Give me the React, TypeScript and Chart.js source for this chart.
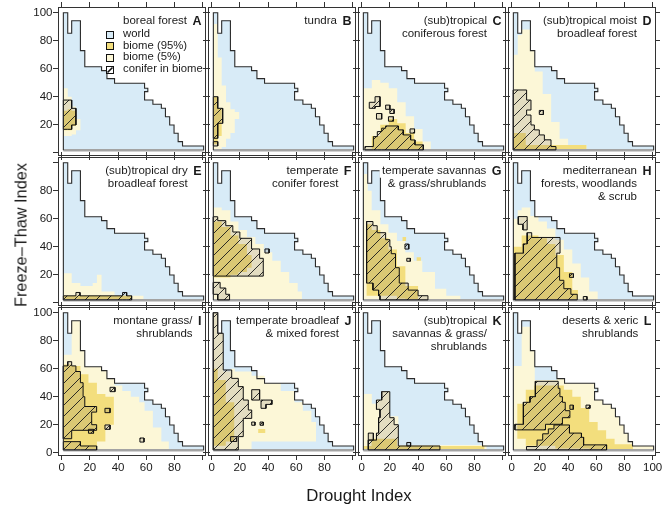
import React, { useEffect, useRef } from "react";
import { Chart, registerables } from "chart.js";

Chart.register(...registerables);

type Step = [number, number, number, number];
type Region = { d: "x" | "y"; s: Step[] };
// "x": columns [x0, x1, yLow, yHigh];  "y": rows [y0, y1, xLow, xHigh]
const X = (...s: Step[]): Region => ({ d: "x", s });
const Y = (...s: Step[]): Region => ({ d: "y", s });

// ---------- axes ----------
const TICK_VALUES = [0, 20, 40, 60, 80, 100];
const X_LABELS_BOTTOM = [
  [0, 20, 40, 60, 80],
  [0, 20, 40, 60, 80],
  [0, 20, 40, 60, 80],
  [0, 20, 40, 60, 80, 100],
];
const Y_LABELS_LEFT = [
  [20, 40, 60, 80, 100],
  [20, 40, 60, 80],
  [0, 20, 40, 60, 80, 100],
];

// ---------- world climate envelope (outline, drought x / freeze-thaw y) ----------
const WORLD: [number, number][] = [
  [1.2, 1.7], [1.2, 100], [4.3, 100], [4.3, 85.3], [7.1, 85.3], [7.1, 94.3], [13.3, 94.3],
  [13.3, 72.9], [16.4, 72.9], [16.4, 61.4], [28.3, 61.4], [28.3, 58.6], [32.1, 58.6],
  [32.1, 52.9], [37.5, 52.9], [37.5, 49.6], [58.8, 49.6], [58.8, 46], [61.1, 46],
  [61.1, 43.6], [58.8, 43.6], [58.8, 37.6], [64.7, 37.6], [64.7, 34.6], [70.7, 34.6],
  [70.7, 31.7], [73.6, 31.7], [73.6, 25.7], [76.6, 25.7], [76.6, 19.8], [79.7, 19.8],
  [79.7, 13.9], [82.6, 13.9], [82.6, 7.9], [85.7, 7.9], [85.7, 4.8], [100.7, 4.8], [100.7, 1.7],
];
const BAND: [number, number][] = [[1.2, 1.7], [100.7, 1.7]];

// ---------- panel labels ----------
const LETTERS = ["A", "B", "C", "D", "E", "F", "G", "H", "I", "J", "K", "L"];
const TITLES = [
  ["boreal forest"],
  ["tundra"],
  ["(sub)tropical", "coniferous forest"],
  ["(sub)tropical moist", "broadleaf forest"],
  ["(sub)tropical dry", "broadleaf forest"],
  ["temperate", "conifer forest"],
  ["temperate savannas", "& grass/shrublands"],
  ["mediterranean", "forests, woodlands", "& scrub"],
  ["montane grass/", "shrublands"],
  ["temperate broadleaf", "& mixed forest"],
  ["(sub)tropical", "savannas & grass/", "shrublands"],
  ["deserts & xeric", "shrublands"],
];
const LEGEND_LABELS = ["world", "biome (95%)", "biome (5%)", "conifer in biome"];
const LEGEND_Y = [84.6, 76.4, 68.1, 59.6];
const TITLE_Y = 93.9;

// ---------- biome regions ----------
const A_B5 = [X([1.2, 4.3, 12, 46], [4.3, 7.1, 12, 40], [7.1, 10.2, 13, 33], [10.2, 13.3, 16, 24])];
const A_B95 = [X([1.2, 4.3, 16, 30], [4.3, 7.1, 16, 31], [7.1, 10.2, 19, 30])];
const A_CON = [X([1.2, 4.3, 16.7, 37.6], [4.3, 7.1, 16.7, 37.6], [7.1, 10.1, 19.8, 31.7])];

const B_B5 = [X([1.2, 4.3, 2, 92], [4.3, 7.1, 2, 68], [7.1, 10.2, 4, 48], [10.2, 13.3, 10, 36], [13.3, 16.4, 14, 31], [16.4, 19.5, 24, 29])];
const B_B95 = [X([1.2, 4.3, 6, 40], [4.3, 7.1, 12, 32])];
const B_CON = [X([1.2, 4.3, 10.3, 40], [4.3, 7.8, 21, 31.7]), X([1.2, 4.3, 4.8, 7.9])];

const C_B5 = [X([1.2, 7.2, 2, 46], [7.2, 13.2, 2, 52], [13.2, 19.2, 2, 50], [19.2, 25.2, 2, 46], [25.2, 31.2, 2, 36], [31.2, 37.2, 2, 26], [37.2, 43.2, 2, 17], [43.2, 49, 2, 8])];
const C_B95 = [X([7.2, 13.2, 2, 12], [13.2, 19.2, 2, 20], [19.2, 25.2, 2, 24], [25.2, 31.2, 2, 21], [31.2, 37.2, 2, 14], [37.2, 43.2, 2, 8])];
const C_CON = [
  X([2.3, 8.3, 2, 4.4], [8.3, 11.1, 2, 11.5], [11.1, 14.2, 2, 15.1], [14.2, 17, 2, 17.5], [17, 26, 2, 19.1], [26, 29.5, 2, 16.3], [29.5, 34.7, 2, 12.7], [34.7, 37.8, 2, 9.1], [37.8, 43.7, 2, 5.6]),
  X([5.4, 9.5, 31.7, 36], [9.5, 13, 33, 40]),
  X([17, 20, 31, 34]), X([20, 23, 28, 31]), X([10.5, 14.2, 24, 28]), X([19, 22.5, 22.5, 25.7]), X([34.3, 37.5, 14, 17]),
];

const D_B5 = [X([1.2, 4.3, 2, 70], [4.3, 7.1, 2, 84], [7.1, 13.3, 2, 88], [13.3, 16.4, 2, 72.9], [16.4, 22, 2, 58], [22, 28, 2, 42], [28, 34, 2, 22], [34, 40, 2, 10], [40, 53, 2, 5.5])];
const D_B95 = [X([1.2, 53, 2, 5.5]), X([1.2, 10, 5, 14])];
const D_CON = [
  Y([2, 4.4, 1.2, 31.4], [4.4, 9.2, 1.2, 27.9], [9.2, 12.7, 1.2, 23.2], [12.7, 16.3, 1.2, 19.6], [16.3, 19.8, 1.2, 16.1], [19.8, 26.9, 1.2, 13.7], [26.9, 30.5, 1.2, 10.6], [30.5, 37.6, 1.2, 13.7], [37.6, 44.8, 1.2, 10.6]),
  X([19.6, 22.5, 27.3, 30.2]),
];

const E_B5 = [X([1.2, 7.1, 2, 21], [7.1, 13.3, 2, 14], [13.3, 22, 2, 12], [22, 25, 2, 14], [25, 28.3, 2, 20], [28.3, 37.5, 2, 8], [37.5, 58, 2, 5])];
const E_B95 = [X([1.2, 49.6, 2, 4.9])];
const E_CON = [X([1.2, 10.1, 2, 4.9], [10.1, 13, 2, 7.3], [13, 43.2, 2, 4.9], [43.2, 46.1, 2, 7.3], [46.1, 49.6, 2, 4.9])];

const F_B5 = [X([1.2, 7.1, 2, 68], [7.1, 13.3, 2, 66], [13.3, 19, 2, 58], [19, 25, 2, 52], [25, 31, 2, 47], [31, 37, 2, 42], [37, 43, 2, 36], [43, 49, 2, 30], [49, 55, 2, 22], [55, 61, 2, 14], [61, 64, 2, 8])];
const F_B95 = [X([1.2, 7.1, 18, 58], [7.1, 13.3, 18, 54], [13.3, 19, 20, 48], [19, 25, 22, 42], [25, 28.3, 25, 34])];
const F_CON = [
  Y([19, 31.7, 1.2, 36.6], [31.7, 38.4, 1.2, 34], [38.4, 46, 1.2, 28.3], [46, 50.5, 1.2, 20], [50.5, 55, 1.2, 15], [55, 58.6, 1.2, 10], [58.6, 61.4, 1.2, 4.3]),
  Y([2, 6, 4.3, 12.7], [6, 10.5, 1.2, 10], [10.5, 14.5, 1.2, 6]),
  X([37.8, 40.7, 35.5, 38.4]),
];

const G_B5 = [X([1.2, 4.3, 2, 92], [4.3, 7.1, 2, 80], [7.1, 13.3, 2, 66], [13.3, 19, 2, 56], [19, 25, 2, 50], [25, 31, 2, 44], [31, 37, 2, 36], [37, 43, 2, 30], [43, 52, 2, 22], [52, 60, 2, 10], [60, 70, 2, 5])];
const G_B95 = [X([3.5, 7.1, 5, 56], [7.1, 13.3, 5, 52], [13.3, 19, 5, 46], [19, 25, 5, 38], [25, 31, 3, 26], [31, 40, 2, 12]), X([29, 31.5, 44, 47]), X([39, 42, 30, 32.5])];
const G_CON = [
  Y([2, 5, 13, 47], [5, 9, 12, 40], [9, 14, 8, 33], [14, 20, 3.5, 27], [20, 25, 3.5, 26.5], [25, 35, 3.5, 24], [35, 40, 3.5, 21], [40, 45, 3.5, 20], [45, 50, 3.5, 17], [50, 55, 3.5, 11], [55, 58, 3.5, 8]),
  X([30.7, 33.4, 38.3, 41.9]), X([32, 34.5, 29.6, 31.7]),
];

const H_B5 = [X([1.2, 4.3, 2, 60], [4.3, 7.1, 2, 66], [7.1, 13.3, 2, 68], [13.3, 19, 2, 62], [19, 25, 2, 58], [25, 31, 2, 53], [31, 37, 2, 45], [37, 43, 2, 38], [43, 49, 2, 28], [49, 55, 2, 18], [55, 61, 2, 8])];
const H_B95 = [X([1.2, 7.1, 2, 40], [7.1, 13.3, 2, 48], [13.3, 19, 2, 48], [19, 25, 2, 46], [25, 31, 2, 42], [31, 37, 2, 34], [37, 43, 2, 22], [43, 47, 2, 9])];
const H_CON = [
  Y([2, 6, 2.3, 46.5], [6, 10, 2.3, 42], [10, 16, 2.3, 37], [16, 25, 2.3, 34], [25, 35.4, 2.3, 32], [35.4, 42, 8.3, 34.3], [42, 46.6, 11, 34.3], [46.6, 50, 11, 14.2]),
  Y([52, 56, 8, 11], [56, 61.5, 4.7, 11]),
  X([41, 43.8, 18.1, 20.7]), X([50.8, 53.4, 2, 4.4]),
];

const I_B5 = [X([1.2, 4.3, 2, 70], [4.3, 7.1, 2, 70], [7.1, 13.3, 2, 94.3], [13.3, 16.4, 2, 72.9], [16.4, 28.3, 2, 61.4], [28.3, 32.1, 2, 58.6], [32.1, 37.5, 2, 52.9], [37.5, 43, 2, 48], [43, 49, 2, 44], [49, 55, 2, 40], [55, 58.8, 2, 36], [58.8, 64.7, 2, 30], [64.7, 70.7, 2, 18], [70.7, 76, 2, 8])];
const I_B95 = [X([1.2, 7.1, 2, 63], [7.1, 13.3, 2, 62], [13.3, 19, 2, 56], [19, 25, 2, 50], [25, 31, 8, 42], [31, 37, 20, 40])];
const I_CON = [
  Y([10, 16, 1.2, 7.1], [16, 20, 1.2, 24.8], [20, 29, 1.2, 21.3], [29, 33, 1.2, 24.8], [33, 40, 1.2, 16.4], [40, 50, 1.2, 15.2], [50, 58, 1.2, 13.3], [58, 62, 1.2, 10.1], [62, 65, 4.3, 7.1]),
  X([1.2, 13.3, 2, 7.9], [13.3, 24.8, 2, 4.8]),
  X([34.3, 37.8, 43.6, 46.7]), X([30.7, 34.3, 28.6, 31.7]), X([30.7, 34.3, 16.7, 19.8]), X([19, 22.6, 13.9, 16.7]), X([55.5, 58.4, 7.6, 10.5]),
];

const J_B5 = [X([1.2, 4.3, 2, 100], [4.3, 8.2, 2, 85.3], [8.2, 13.3, 2, 58], [13.3, 16.4, 2, 60], [16.4, 28.3, 2, 58], [28.3, 37.5, 8, 55], [37.5, 49, 8, 49.6], [49, 58.8, 8, 44], [58.8, 64.7, 8, 36], [64.7, 70.7, 8, 30], [70.7, 74, 8, 22])];
const J_B95 = [X([1.2, 4.3, 5, 60], [4.3, 10, 5, 52], [10, 16, 8, 36]), X([33, 38, 14, 17])];
const J_CON = [
  Y([2, 11.5, 1.2, 18.9], [11.5, 24.5, 1.2, 22.4], [24.5, 30.5, 1.2, 28.4], [30.5, 37.6, 1.2, 26], [37.6, 47.2, 1.2, 22.4], [47.2, 53.1, 1.2, 18.9], [53.1, 59.1, 1.2, 14.2], [59.1, 85.3, 1.2, 8.2], [85.3, 100, 1.2, 4.3]),
  X([13.4, 17.7, 8, 11.5]), X([28.4, 34, 37.6, 45]), X([35, 38.5, 31.7, 37.6], [38.5, 42.7, 34.5, 37.6]),
  X([28.4, 30.7, 19.6, 21.9]), X([34.3, 36.6, 19.6, 21.9]),
];

const K_B5 = [X([1.2, 7.2, 2, 42], [7.2, 10.5, 2, 35], [10.5, 14.2, 2, 38], [14.2, 20, 2, 44], [20, 26, 2, 26], [26, 88.6, 2, 5.5])];
const K_B95 = [X([1.2, 87, 2, 4.8]), X([7, 25, 4.8, 10])];
const K_CON = [
  Y([2, 4.8, 4.7, 55.5], [4.8, 9, 4.7, 26], [9, 14, 10.5, 26], [14, 20, 12, 26], [20, 25, 12, 23], [25, 31, 13, 20], [31, 37.6, 10.5, 20], [37.6, 43.6, 14.2, 19.9]),
  X([4.7, 8.3, 9, 14]), X([32, 34.7, 4.8, 7.3]),
];

const L_B5 = [X([1.2, 4.3, 2, 62], [4.3, 7.1, 2, 62], [7.1, 13.3, 2, 90], [13.3, 16.4, 2, 72.9], [16.4, 32.1, 2, 52], [32.1, 37.5, 2, 52.9], [37.5, 58.8, 2, 49.6], [58.8, 64.7, 2, 37.6], [64.7, 70.7, 2, 34.6], [70.7, 73.6, 2, 31.7], [73.6, 76.6, 2, 25.7], [76.6, 79.7, 2, 19.8], [79.7, 82.6, 2, 13.9], [82.6, 85.7, 2, 7.9], [85.7, 100.7, 2, 4.8])];
const L_B95 = [X([4, 10, 10, 35], [10, 16, 5, 45], [16, 25, 5, 48], [25, 31, 5, 48], [31, 37, 3, 48], [37, 43, 3, 45], [43, 49, 3, 40], [49, 55, 3, 32], [55, 61, 2, 22], [61, 67, 2, 16], [67, 73, 2, 10], [73, 86, 2, 6])];
const L_CON = [
  Y([16.3, 20.3, 2.3, 24], [20.3, 25, 8.3, 36], [25, 30, 8.3, 41.3], [30, 36, 8.3, 38], [36, 40, 13, 36], [40, 46, 16.8, 34.2], [46, 51, 16.8, 33]),
  X([10.5, 18, 2, 4.4], [18, 22, 2, 9], [22, 26, 2, 13.5], [26, 30, 2, 17], [30, 41, 2, 19.8], [41, 49.5, 2, 14], [49.5, 51, 2, 11], [51, 67.3, 2, 5.6]),
  X([41.3, 43.7, 31, 34]), X([52.7, 55.5, 31.7, 34]),
];

const B5_LIST = [A_B5, B_B5, C_B5, D_B5, E_B5, F_B5, G_B5, H_B5, I_B5, J_B5, K_B5, L_B5];
const B95_LIST = [A_B95, B_B95, C_B95, D_B95, E_B95, F_B95, G_B95, H_B95, I_B95, J_B95, K_B95, L_B95];
const CON_LIST = [A_CON, B_CON, C_CON, D_CON, E_CON, F_CON, G_CON, H_CON, I_CON, J_CON, K_CON, L_CON];

// ---------- styling / layout ----------
const FONT = '"Liberation Sans", Arial, Helvetica, sans-serif';
const COL_WORLD = "#d8ebf7";
const COL_B95 = "#f3de7d";
const COL_B5 = "#fcf7d7";
const COL_LINE = "#2b2b2b";
const COL_BAND = "#a3a3a3";
const COL_FRAME = "#333333";
const COL_TEXT = "#1a1a1a";

const XMIN = -2.6, XMAX = 101.65, YMIN = -1.64, YMAX = 104.07;
const ML = 40, MR = 12, MT = 10, MB = 24, PW = 147, PH = 148;
const CW = ML + PW + MR, CH = MT + PH + MB;
const LEFT0 = 18, TOP0 = -3, STEP = 150;

const toPts = (a: [number, number][]) => a.map(([x, y]) => ({ x, y }));

function regionPoints(r: Region) {
  const top: { x: number; y: number }[] = [];
  const bot: { x: number; y: number }[] = [];
  for (const [a, b, lo, hi] of r.s) {
    if (r.d === "x") {
      top.push({ x: a, y: hi }, { x: b, y: hi });
      bot.push({ x: a, y: lo }, { x: b, y: lo });
    } else {
      top.push({ x: hi, y: a }, { x: hi, y: b });
      bot.push({ x: lo, y: a }, { x: lo, y: b });
    }
  }
  return [...top, ...bot.reverse(), top[0]];
}

function makeHatch(): CanvasPattern {
  const t = document.createElement("canvas");
  const n = 11;
  t.width = n;
  t.height = n;
  const g = t.getContext("2d")!;
  g.fillStyle = "rgba(85,75,65,0.15)";
  g.fillRect(0, 0, n, n);
  g.strokeStyle = "#1a1a1a";
  g.lineWidth = 0.9;
  g.beginPath();
  g.moveTo(-1, n + 1);
  g.lineTo(n + 1, -1);
  g.moveTo(-2, 2);
  g.lineTo(2, -2);
  g.moveTo(n - 2, n + 2);
  g.lineTo(n + 2, n - 2);
  g.stroke();
  return g.createPattern(t, "repeat")!;
}

function axis(pos: string, labels: number[] | null, size: number, isX: boolean) {
  return {
    type: "linear",
    position: pos,
    axis: isX ? "x" : "y",
    min: isX ? XMIN : YMIN,
    max: isX ? XMAX : YMAX,
    afterBuildTicks: (s: any) => {
      s.ticks = TICK_VALUES.map((v) => ({ value: v }));
    },
    afterFit: (s: any) => {
      if (isX) s.height = size;
      else s.width = size;
    },
    ticks: {
      autoSkip: false,
      maxRotation: 0,
      padding: isX ? 1 : 0.5,
      color: COL_TEXT,
      font: { family: FONT, size: 11.5 },
      callback: (v: any) => (labels && labels.includes(Number(v)) ? String(v) : ""),
    },
    grid: { display: true, drawOnChartArea: false, drawTicks: true, tickLength: 5, color: COL_FRAME, lineWidth: 1 },
    border: { display: true, color: COL_FRAME, width: 1 },
  };
}

function textPlugin(idx: number) {
  return {
    id: "panelText" + idx,
    afterDatasetsDraw(chart: any) {
      const { ctx, chartArea, scales } = chart;
      const lines = TITLES[idx];
      ctx.save();
      ctx.textBaseline = "middle";
      ctx.font = `bold 12.5px ${FONT}`;
      const lw = ctx.measureText(LETTERS[idx]).width;
      const lx = chartArea.right - 3.5 - lw;
      const y0 = scales.y.getPixelForValue(TITLE_Y);
      const rx = lx - 5.5;
      ctx.font = `11.5px ${FONT}`;
      ctx.fillStyle = "#ffffff";
      lines.forEach((t, i) => {
        const w = ctx.measureText(t).width;
        ctx.fillRect(rx - w - 2.5, y0 + i * 13 - 6.5, w + 5, 13);
      });
      ctx.fillStyle = COL_TEXT;
      ctx.textAlign = "right";
      lines.forEach((t, i) => ctx.fillText(t, rx, y0 + i * 13));
      ctx.font = `bold 12.5px ${FONT}`;
      ctx.textAlign = "left";
      ctx.fillText(LETTERS[idx], lx, y0);

      if (idx === 0) {
        const fills = [COL_WORLD, COL_B95, COL_B5, "#ffffff"];
        const s = 7;
        const bx = Math.round(chartArea.left + 47.5) + 0.5;
        const tx = chartArea.left + 65;
        ctx.font = `11.3px ${FONT}`;
        LEGEND_LABELS.forEach((lab, i) => {
          const y = scales.y.getPixelForValue(LEGEND_Y[i]);
          const by = Math.round(y - s / 2) + 0.5;
          ctx.fillStyle = fills[i];
          ctx.fillRect(bx, by, s, s);
          ctx.strokeStyle = "#111";
          if (i === 3) {
            ctx.lineWidth = 1.6;
            ctx.beginPath();
            ctx.moveTo(bx + 1, by + s - 1);
            ctx.lineTo(bx + s - 1, by + 1);
            ctx.stroke();
          }
          ctx.lineWidth = 1;
          ctx.strokeRect(bx, by, s, s);
          ctx.fillStyle = COL_TEXT;
          ctx.textAlign = "left";
          ctx.fillText(lab, tx, y);
        });
      }
      ctx.restore();
    },
  };
}

function buildChart(canvas: HTMLCanvasElement, idx: number) {
  const col = idx % 4;
  const row = Math.floor(idx / 4);
  const hatch = makeHatch();
  const base = { pointRadius: 0, tension: 0, borderJoinStyle: "miter", fill: "shape" };
  const datasets: any[] = [];
  datasets.push({ ...base, data: toPts([...WORLD, WORLD[0]]), backgroundColor: COL_WORLD, borderWidth: 0, order: 50 });
  B5_LIST[idx].forEach((r) =>
    datasets.push({ ...base, data: regionPoints(r), backgroundColor: COL_B5, borderWidth: 0, order: 40 })
  );
  B95_LIST[idx].forEach((r) =>
    datasets.push({ ...base, data: regionPoints(r), backgroundColor: COL_B95, borderWidth: 0, order: 30 })
  );
  datasets.push({ ...base, fill: false, data: toPts(BAND), borderColor: COL_BAND, borderWidth: 2.5, order: 25 });
  CON_LIST[idx].forEach((r) =>
    datasets.push({ ...base, data: regionPoints(r), backgroundColor: hatch, borderColor: "#111", borderWidth: 1, order: 20 })
  );
  datasets.push({ ...base, fill: false, data: toPts(WORLD), borderColor: COL_LINE, borderWidth: 1.1, order: 10 });

  const xLabels = row === 2 ? X_LABELS_BOTTOM[col] : null;
  const yLabels = col === 0 ? Y_LABELS_LEFT[row] : null;

  return new Chart(canvas, {
    type: "line",
    data: { datasets },
    options: {
      responsive: false,
      animation: false,
      devicePixelRatio: 1,
      events: [],
      layout: { padding: 0 },
      plugins: { legend: { display: false }, tooltip: { enabled: false }, title: { display: false } },
      scales: {
        x: axis("bottom", xLabels, MB, true),
        x2: axis("top", null, MT, true),
        y: axis("left", yLabels, ML, false),
        y2: axis("right", null, MR, false),
      } as any,
    },
    plugins: [textPlugin(idx)],
  } as any);
}

export default function App() {
  const refs = useRef<(HTMLCanvasElement | null)[]>([]);
  useEffect(() => {
    const charts = refs.current.map((c, i) => (c ? buildChart(c, i) : null));
    return () => charts.forEach((ch) => ch && ch.destroy());
  }, []);

  return (
    <div
      style={{
        position: "absolute",
        left: 0,
        top: 0,
        width: 666,
        height: 513,
        overflow: "hidden",
        background: "#ffffff",
        fontFamily: FONT,
        color: COL_TEXT,
      }}
    >
      {LETTERS.map((l, i) => (
        <canvas
          key={l}
          ref={(el) => {
            refs.current[i] = el;
          }}
          width={CW}
          height={CH}
          style={{
            position: "absolute",
            left: LEFT0 + STEP * (i % 4),
            top: TOP0 + STEP * Math.floor(i / 4),
            width: CW,
            height: CH,
          }}
        />
      ))}
      <div
        style={{
          position: "absolute",
          left: 20.6,
          top: 235,
          transform: "translate(-50%, -50%) rotate(-90deg)",
          fontSize: 16.3,
          lineHeight: "17px",
          whiteSpace: "nowrap",
        }}
      >
        Freeze–Thaw Index
      </div>
      <div
        style={{
          position: "absolute",
          left: 359,
          top: 495,
          transform: "translate(-50%, -50%)",
          fontSize: 16.8,
          lineHeight: "17px",
          whiteSpace: "nowrap",
        }}
      >
        Drought Index
      </div>
    </div>
  );
}
